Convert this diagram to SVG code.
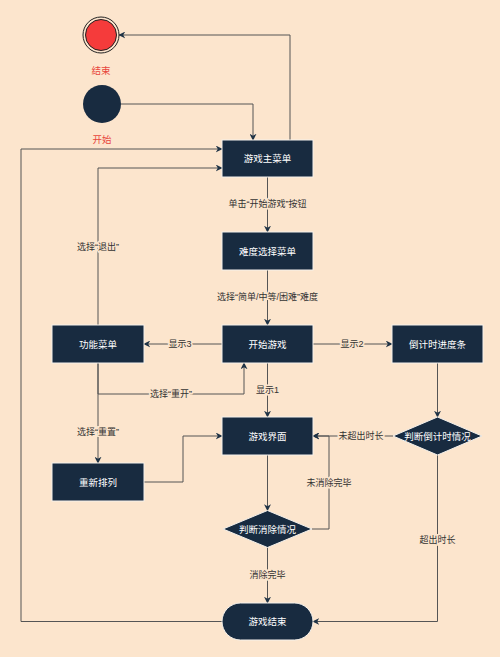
<svg xmlns="http://www.w3.org/2000/svg" width="500" height="657" viewBox="0 0 500 657">
<style>
.bg{fill:#FCE5CD}
.box{fill:#182B40;stroke:#F4F1EC;stroke-width:1}
.nt{font-family:"Liberation Sans","Noto Sans CJK SC",sans-serif;font-size:9.5px;fill:#FFFFFF;text-anchor:middle;dominant-baseline:central}
.lb{font-family:"Liberation Sans","Noto Sans CJK SC",sans-serif;font-size:9px;fill:#333333;text-anchor:middle;dominant-baseline:central;stroke:#FCE5CD;stroke-width:3;paint-order:stroke}
.rl{font-family:"Liberation Sans","Noto Sans CJK SC",sans-serif;font-size:9.5px;fill:#E8453C;text-anchor:middle;dominant-baseline:central}
.cn{fill:none;stroke:#555555;stroke-width:1;marker-end:url(#ah)}
.cn0{fill:none;stroke:#555555;stroke-width:1}
</style>
<defs>
<marker id="ah" viewBox="0 0 10 10" refX="9" refY="5" markerWidth="7" markerHeight="7" markerUnits="userSpaceOnUse" orient="auto">
<path d="M0,0 L10,5 L0,10 L3,5 Z" fill="#1F3346"/>
</marker>
</defs>
<rect class="bg" x="0" y="0" width="500" height="657"/>
<g id="connectors">
<path class="cn" d="M121,104 H253 V140"/>
<path class="cn" d="M290,140 V35 H119"/>
<path class="cn" d="M267.5,177 V232"/>
<path class="cn" d="M267.5,270 V325"/>
<path class="cn" d="M222,344 H144"/>
<path class="cn" d="M313,344 H392"/>
<path class="cn" d="M267.5,363 V417"/>
<path class="cn" d="M98,325 V168 H222"/>
<path class="cn" d="M98,363 V394 H244 V363"/>
<path class="cn" d="M98,363 V463"/>
<path class="cn" d="M144,482 H183 V436 H222"/>
<path class="cn" d="M437.5,363 V417"/>
<path class="cn" d="M393,436 H313"/>
<path class="cn" d="M267.5,455 V510.5"/>
<path class="cn" d="M312,529 H329 V436 H313"/>
<path class="cn" d="M267.5,547.5 V603"/>
<path class="cn" d="M437.5,455 V621.5 H313"/>
<path class="cn" d="M222,621.5 H21 V149 H222"/>
</g>
<g id="edge-labels">
<text class="lb" x="267.5" y="204">单击“开始游戏”按钮</text>
<text class="lb" x="267.5" y="297">选择“简单/中等/困难”难度</text>
<text class="lb" x="180" y="344">显示3</text>
<text class="lb" x="352" y="344">显示2</text>
<text class="lb" x="267.5" y="390">显示1</text>
<text class="lb" x="98" y="247">选择“退出”</text>
<text class="lb" x="171" y="394">选择“重开”</text>
<text class="lb" x="98" y="432">选择“重置”</text>
<text class="lb" x="361" y="436">未超出时长</text>
<text class="lb" x="329" y="483">未消除完毕</text>
<text class="lb" x="267.5" y="575">消除完毕</text>
<text class="lb" x="437.5" y="540">超出时长</text>
</g>
<g id="end">
<circle cx="101" cy="35" r="18" fill="#FCE5CD" stroke="#222222" stroke-width="1"/>
<circle cx="101" cy="35" r="15.5" fill="#F53B3B" stroke="#222222" stroke-width="1"/>
<text class="rl" x="101" y="70">结束</text>
</g>
<g id="start">
<circle cx="102" cy="104" r="19" fill="#182B40"/>
<text class="rl" x="102" y="139">开始</text>
</g>
<g id="main-menu">
<rect class="box" x="222" y="140" width="91" height="37"/>
<text class="nt" x="267.5" y="158.5">游戏主菜单</text>
</g>
<g id="difficulty-menu">
<rect class="box" x="222" y="232" width="91" height="38"/>
<text class="nt" x="267.5" y="251">难度选择菜单</text>
</g>
<g id="function-menu">
<rect class="box" x="52" y="325" width="92" height="38"/>
<text class="nt" x="98" y="344">功能菜单</text>
</g>
<g id="start-game">
<rect class="box" x="222" y="325" width="91" height="38"/>
<text class="nt" x="267.5" y="344">开始游戏</text>
</g>
<g id="countdown">
<rect class="box" x="392" y="325" width="91" height="38"/>
<text class="nt" x="437.5" y="344">倒计时进度条</text>
</g>
<g id="game-ui">
<rect class="box" x="222" y="417" width="91" height="38"/>
<text class="nt" x="267.5" y="436">游戏界面</text>
</g>
<g id="rearrange">
<rect class="box" x="52" y="463" width="92" height="38"/>
<text class="nt" x="98" y="482">重新排列</text>
</g>
<g id="judge-countdown">
<polygon class="box" points="437.5,417 482,436 437.5,455 393,436"/>
<text class="nt" x="437.5" y="436">判断倒计时情况</text>
</g>
<g id="judge-clear">
<polygon class="box" points="267.5,510.5 312,529 267.5,547.5 223,529"/>
<text class="nt" x="267.5" y="529">判断消除情况</text>
</g>
<g id="game-over">
<rect class="box" x="222" y="603" width="91" height="37" rx="18.5" ry="18.5"/>
<text class="nt" x="267.5" y="621.5">游戏结束</text>
</g>
</svg>
